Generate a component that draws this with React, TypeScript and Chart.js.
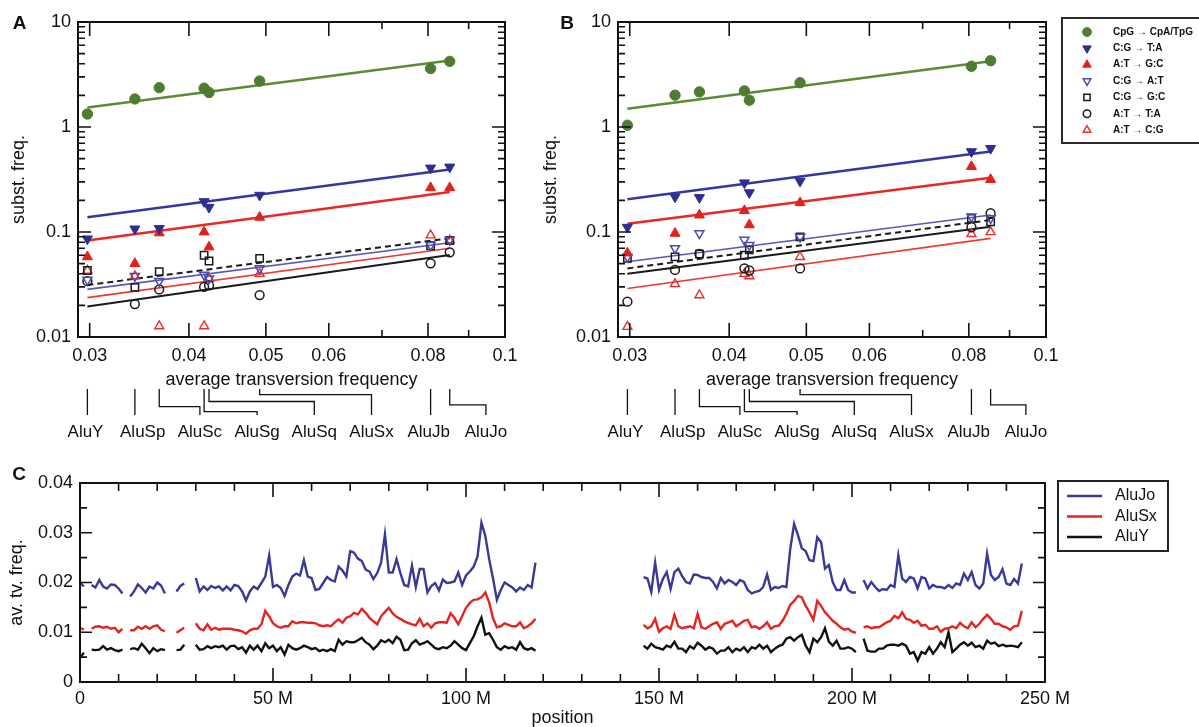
import React, { useEffect, useRef } from 'react';
import { Chart, registerables } from 'chart.js';
import { drawPoint } from 'chart.js/helpers';

Chart.register(...registerables);

const FONT = '"Liberation Sans", Arial, Helvetica, sans-serif';
Chart.defaults.font.family = FONT;
Chart.defaults.color = '#111';

// ---------------- Panels A & B data ----------------
const aluFamilies = ['AluY', 'AluSp', 'AluSc', 'AluSg', 'AluSq', 'AluSx', 'AluJb', 'AluJo'];
const aluTvFreq = [0.0298, 0.0342, 0.0367, 0.0418, 0.0424, 0.0491, 0.0806, 0.0852];
const fitTvRange = [0.0298, 0.0852];
const tvTickLabels = [0.03, 0.04, 0.05, 0.06, 0.08, 0.1];
const tvMinorMarks = [0.07, 0.09];
const substTickLabels = [0.01, 0.1, 1, 10];
const substTypes = ['CpG → CpA/TpG', 'C:G → T:A', 'A:T → G:C', 'C:G → A:T', 'C:G → G:C', 'A:T → T:A', 'A:T → C:G'];

// Panel A
const aCpG = [1.33, 1.85, 2.37, 2.34, 2.13, 2.74, 3.6, 4.22];
const aCGtoTA = [0.086, 0.107, 0.108, 0.195, 0.172, 0.224, 0.407, 0.416];
const aATtoGC = [0.058, 0.05, 0.098, 0.1, 0.072, 0.138, 0.264, 0.264];
const aCGtoAT = [0.035, 0.038, 0.034, 0.039, 0.036, 0.045, 0.075, 0.084];
const aCGtoGC = [0.043, 0.0297, 0.042, 0.06, 0.053, 0.056, 0.074, 0.083];
const aATtoTA = [0.034, 0.0206, 0.0284, 0.03, 0.031, 0.0251, 0.0503, 0.064];
const aATtoCG = [0.043, 0.038, 0.0127, 0.0127, 0.036, 0.04, 0.093, 0.083];
const aCpGFit = [1.53, 4.3];
const aCGtoTAFit = [0.138, 0.393];
const aATtoGCFit = [0.083, 0.24];
const aCGtoATFit = [0.0284, 0.079];
const aCGtoGCFit = [0.0313, 0.087];
const aATtoTAFit = [0.0195, 0.0604];
const aATtoCGFit = [0.0237, 0.07];

// Panel B
const bCpG = [1.04, 2.01, 2.16, 2.21, 1.8, 2.64, 3.79, 4.28];
const bCGtoTA = [0.111, 0.216, 0.213, 0.294, 0.237, 0.305, 0.583, 0.626];
const bATtoGC = [0.063, 0.097, 0.145, 0.16, 0.117, 0.19, 0.42, 0.316];
const bCGtoAT = [0.058, 0.07, 0.097, 0.084, 0.075, 0.09, 0.14, 0.135];
const bCGtoGC = [0.056, 0.058, 0.0617, 0.06, 0.0675, 0.09, 0.135, 0.125];
const bATtoTA = [0.0217, 0.0435, 0.062, 0.045, 0.043, 0.045, 0.111, 0.151];
const bATtoCG = [0.0125, 0.032, 0.025, 0.04, 0.038, 0.058, 0.096, 0.1];
const bCpGFit = [1.49, 4.22];
const bCGtoTAFit = [0.205, 0.583];
const bATtoGCFit = [0.12, 0.328];
const bCGtoATFit = [0.052, 0.145];
const bCGtoGCFit = [0.045, 0.13];
const bATtoTAFit = [0.04, 0.112];
const bATtoCGFit = [0.029, 0.087];

// ---------------- Panel C data (1 Mb windows) ----------------
const cSeriesNames = ['AluJo', 'AluSx', 'AluY'];
const genomePosM = Array.from({ length: 245 }, (_, i) => i);
const aluJoTv = [
  0.0200, 0.0192, null, 0.0195, 0.0190, 0.0205, 0.0192, 0.0188, 0.0196, 0.0195,
  0.0188, 0.0178, null, 0.0172, 0.0182, 0.0196, 0.0189, 0.0180, 0.0192, 0.0188,
  0.0200, 0.0194, 0.0178, null, null, 0.0182, 0.0193, 0.0198, null, null,
  0.0209, 0.0182, 0.0192, 0.0185, 0.0193, 0.0189, 0.0192, 0.0184, 0.0192, 0.0184,
  0.0195, 0.0193, 0.0182, 0.0164, 0.0182, 0.0192, 0.0187, 0.0199, 0.0212, 0.0254,
  0.0191, 0.0195, 0.0189, 0.0173, 0.0195, 0.0212, 0.0218, 0.0214, 0.0245, 0.0212,
  0.0209, 0.0185, 0.0187, 0.0199, 0.0211, 0.0205, 0.0202, 0.0232, 0.0224, 0.0212,
  0.0263, 0.0260, 0.0248, 0.0243, 0.0226, 0.0222, 0.0207, 0.0219, 0.0240, 0.0297,
  0.0220, 0.0220, 0.0247, 0.0219, 0.0195, 0.0192, 0.0234, 0.0191, 0.0227, 0.0227,
  0.0180, 0.0193, 0.0199, 0.0184, 0.0206, 0.0199, 0.0200, 0.0202, 0.0220, 0.0195,
  0.0214, 0.0222, 0.0232, 0.0253, 0.0320, 0.0294, 0.0247, 0.0208, 0.0165, 0.0185,
  0.0200, 0.0195, 0.0190, 0.0182, 0.0190, 0.0185, 0.0195, 0.0190, 0.0240, null,
  null, null, null, null, null, null, null, null, null, null,
  null, null, null, null, null, null, null, null, null, null,
  null, null, null, null, null, null, 0.0211, 0.0208, 0.0181, 0.0240,
  0.0185, 0.0207, 0.0221, 0.0187, 0.0221, 0.0228, 0.0213, 0.0201, 0.0198, 0.0216,
  0.0215, 0.0211, 0.0209, 0.0209, 0.0201, 0.0188, 0.0209, 0.0198, 0.0205, 0.0201,
  0.0195, 0.0205, 0.0201, 0.0185, 0.0178, 0.0181, 0.0183, 0.0191, 0.0216, 0.0185,
  0.0191, 0.0189, 0.0193, 0.0191, 0.0267, 0.0318, 0.0295, 0.0269, 0.0263, 0.0245,
  0.0243, 0.0291, 0.0281, 0.0228, 0.0235, 0.0201, 0.0185, 0.0185, 0.0205, 0.0185,
  0.0180, 0.0180, null, 0.0205, 0.0188, 0.0201, 0.0191, 0.0183, 0.0187, 0.0185,
  0.0195, 0.0191, 0.0255, 0.0208, 0.0201, 0.0211, 0.0208, 0.0188, 0.0211, 0.0208,
  0.0188, 0.0195, 0.0191, 0.0191, 0.0188, 0.0195, 0.0189, 0.0198, 0.0195, 0.0218,
  0.0205, 0.0221, 0.0195, 0.0188, 0.0198, 0.0258, 0.0215, 0.0205, 0.0211, 0.0227,
  0.0198, 0.0195, 0.0207, 0.0198, 0.0238,
];
const aluSxTv = [
  0.0109, 0.0105, null, 0.0107, 0.0111, 0.0112, 0.0109, 0.0111, 0.0107, 0.0109,
  0.0100, 0.0107, null, 0.0104, 0.0104, 0.0111, 0.0107, 0.0112, 0.0107, 0.0112,
  0.0114, 0.0105, 0.0102, null, null, 0.0099, 0.0104, 0.0109, null, null,
  0.0118, 0.0107, 0.0104, 0.0116, 0.0105, 0.0109, 0.0105, 0.0107, 0.0107, 0.0107,
  0.0105, 0.0104, 0.0102, 0.0097, 0.0104, 0.0107, 0.0107, 0.0116, 0.0143, 0.0132,
  0.0118, 0.0112, 0.0109, 0.0112, 0.0112, 0.0122, 0.0118, 0.0120, 0.0120, 0.0119,
  0.0119, 0.0118, 0.0114, 0.0112, 0.0114, 0.0112, 0.0120, 0.0126, 0.0119, 0.0129,
  0.0132, 0.0139, 0.0136, 0.0147, 0.0139, 0.0129, 0.0122, 0.0116, 0.0132, 0.0141,
  0.0149, 0.0138, 0.0131, 0.0127, 0.0122, 0.0119, 0.0116, 0.0114, 0.0127, 0.0112,
  0.0118, 0.0109, 0.0118, 0.0120, 0.0120, 0.0119, 0.0138, 0.0129, 0.0116, 0.0132,
  0.0149, 0.0159, 0.0165, 0.0166, 0.0170, 0.0180, 0.0160, 0.0128, 0.0110, 0.0112,
  0.0118, 0.0115, 0.0112, 0.0112, 0.0120, 0.0108, 0.0112, 0.0118, 0.0127, null,
  null, null, null, null, null, null, null, null, null, null,
  null, null, null, null, null, null, null, null, null, null,
  null, null, null, null, null, null, 0.0115, 0.0108, 0.0112, 0.0127,
  0.0101, 0.0108, 0.0112, 0.0107, 0.0135, 0.0112, 0.0108, 0.0110, 0.0112, 0.0108,
  0.0137, 0.0110, 0.0107, 0.0112, 0.0117, 0.0120, 0.0107, 0.0117, 0.0120, 0.0123,
  0.0112, 0.0117, 0.0123, 0.0125, 0.0110, 0.0112, 0.0107, 0.0112, 0.0120, 0.0107,
  0.0112, 0.0113, 0.0123, 0.0137, 0.0155, 0.0163, 0.0173, 0.0170, 0.0153, 0.0140,
  0.0125, 0.0163, 0.0153, 0.0140, 0.0132, 0.0123, 0.0117, 0.0110, 0.0105, 0.0107,
  0.0101, 0.0099, null, 0.0110, 0.0112, 0.0108, 0.0110, 0.0110, 0.0115, 0.0120,
  0.0123, 0.0133, 0.0128, 0.0140, 0.0127, 0.0125, 0.0119, 0.0123, 0.0113, 0.0115,
  0.0107, 0.0107, 0.0112, 0.0101, 0.0107, 0.0108, 0.0112, 0.0108, 0.0119, 0.0112,
  0.0108, 0.0120, 0.0110, 0.0117, 0.0127, 0.0135, 0.0127, 0.0117, 0.0117, 0.0112,
  0.0110, 0.0105, 0.0112, 0.0113, 0.0143,
];
const aluYTv = [
  0.0048, 0.0059, null, 0.0065, 0.0064, 0.0065, 0.0072, 0.0065, 0.0068, 0.0064,
  0.0062, 0.0065, null, 0.0066, 0.0068, 0.0065, 0.0077, 0.0068, 0.0058, 0.0068,
  0.0062, 0.0066, 0.0064, null, null, 0.0064, 0.0065, 0.0075, null, null,
  0.0075, 0.0065, 0.0066, 0.0072, 0.0068, 0.0072, 0.0070, 0.0073, 0.0065, 0.0072,
  0.0073, 0.0066, 0.0070, 0.0059, 0.0073, 0.0065, 0.0073, 0.0062, 0.0078, 0.0068,
  0.0073, 0.0062, 0.0070, 0.0055, 0.0075, 0.0068, 0.0065, 0.0068, 0.0073, 0.0070,
  0.0066, 0.0068, 0.0062, 0.0065, 0.0062, 0.0066, 0.0062, 0.0085, 0.0075, 0.0082,
  0.0080, 0.0080, 0.0084, 0.0089, 0.0080, 0.0075, 0.0066, 0.0073, 0.0084, 0.0080,
  0.0085, 0.0078, 0.0091, 0.0085, 0.0064, 0.0065, 0.0078, 0.0084, 0.0075, 0.0078,
  0.0082, 0.0075, 0.0068, 0.0066, 0.0070, 0.0068, 0.0073, 0.0082, 0.0075, 0.0068,
  0.0064, 0.0078, 0.0092, 0.0112, 0.0129, 0.0095, 0.0098, 0.0085, 0.0070, 0.0065,
  0.0072, 0.0068, 0.0070, 0.0065, 0.0080, 0.0068, 0.0065, 0.0068, 0.0063, null,
  null, null, null, null, null, null, null, null, null, null,
  null, null, null, null, null, null, null, null, null, null,
  null, null, null, null, null, null, 0.0073, 0.0067, 0.0077, 0.0070,
  0.0068, 0.0065, 0.0073, 0.0070, 0.0081, 0.0067, 0.0067, 0.0060, 0.0072, 0.0067,
  0.0079, 0.0073, 0.0065, 0.0070, 0.0067, 0.0057, 0.0063, 0.0063, 0.0070, 0.0060,
  0.0067, 0.0063, 0.0070, 0.0060, 0.0070, 0.0067, 0.0075, 0.0067, 0.0073, 0.0060,
  0.0067, 0.0072, 0.0075, 0.0087, 0.0090, 0.0083, 0.0090, 0.0095, 0.0073, 0.0060,
  0.0087, 0.0080, 0.0090, 0.0108, 0.0081, 0.0073, 0.0083, 0.0067, 0.0067, 0.0070,
  0.0067, 0.0060, null, 0.0087, 0.0063, 0.0061, 0.0061, 0.0067, 0.0067, 0.0073,
  0.0075, 0.0075, 0.0073, 0.0077, 0.0073, 0.0057, 0.0060, 0.0043, 0.0060, 0.0057,
  0.0070, 0.0057, 0.0067, 0.0080, 0.0070, 0.0100, 0.0060, 0.0067, 0.0075, 0.0080,
  0.0073, 0.0079, 0.0070, 0.0073, 0.0067, 0.0083, 0.0077, 0.0079, 0.0072, 0.0075,
  0.0072, 0.0073, 0.0072, 0.0070, 0.0080,
];
const posTickLabels = [0, 50, 100, 150, 200, 250];
const posMinorMarks = [10, 20, 30, 40, 60, 70, 80, 90, 110, 120, 130, 140, 160, 170, 180, 190, 210, 220, 230, 240];
const tvTicksC = [0, 0.01, 0.02, 0.03, 0.04];
const tvMinorC = [0.005, 0.015, 0.025, 0.035];

// ---------------- styles ----------------
const seriesStyles = [
  { pointStyle: 'circle', rotation: 0, radius: 5.2, fill: '#4e7d31', stroke: '#4e7d31', bw: 1, line: '#5a8c33', lw: 2.5, dash: [] },
  { pointStyle: 'triangle', rotation: 180, radius: 5.8, fill: '#2e2e92', stroke: '#2e2e92', bw: 1, line: '#3636a0', lw: 2.5, dash: [] },
  { pointStyle: 'triangle', rotation: 0, radius: 5.8, fill: '#e3201c', stroke: '#e3201c', bw: 1, line: '#e82a22', lw: 2.5, dash: [] },
  { pointStyle: 'triangle', rotation: 180, radius: 5.2, fill: 'rgba(0,0,0,0)', stroke: '#4a4ab0', bw: 1.5, line: '#5858b8', lw: 1.6, dash: [] },
  { pointStyle: 'rect', rotation: 0, radius: 5.2, fill: 'rgba(0,0,0,0)', stroke: '#1a1a1a', bw: 1.5, line: '#1a1a1a', lw: 2, dash: [6, 4] },
  { pointStyle: 'circle', rotation: 0, radius: 4.4, fill: 'rgba(0,0,0,0)', stroke: '#1a1a1a', bw: 1.5, line: '#1a1a1a', lw: 2, dash: [] },
  { pointStyle: 'triangle', rotation: 0, radius: 5.2, fill: 'rgba(0,0,0,0)', stroke: '#e8302a', bw: 1.4, line: '#ec3a30', lw: 1.6, dash: [] },
];
const cColors = ['#39399a', '#e3241f', '#111111'];
const bracketElbows = [null, null, 0.675, 0.87, 0.48, 0.22, null, 0.61];

const logMinor = [0.01, 0.1, 1].flatMap((d) => [2, 3, 4, 5, 6, 7, 8, 9].map((m) => m * d));

function framePlugin(spec: any) {
  return {
    id: 'frameTicks',
    afterDatasetsDraw(chart: any) {
      const { ctx, chartArea } = chart;
      const { left, right, top, bottom } = chartArea;
      const xs = chart.scales.x;
      const ys = chart.scales.y;
      ctx.save();
      ctx.strokeStyle = '#111';
      ctx.lineWidth = 1.6;
      ctx.beginPath();
      const vx = (v: number, len: number) => {
        const p = xs.getPixelForValue(v);
        ctx.moveTo(p, bottom); ctx.lineTo(p, bottom - len);
        ctx.moveTo(p, top); ctx.lineTo(p, top + len);
      };
      const hy = (v: number, len: number) => {
        const p = ys.getPixelForValue(v);
        ctx.moveTo(left, p); ctx.lineTo(left + len, p);
        ctx.moveTo(right, p); ctx.lineTo(right - len, p);
      };
      spec.xMajor.forEach((v: number) => vx(v, spec.xMajorLen));
      spec.xMinor.forEach((v: number) => vx(v, spec.xMinorLen));
      spec.yMajor.forEach((v: number) => hy(v, spec.yMajorLen));
      spec.yMinor.forEach((v: number) => hy(v, spec.yMinorLen));
      ctx.stroke();
      ctx.lineWidth = 2;
      ctx.strokeRect(left, top, right - left, bottom - top);
      ctx.restore();
    },
  };
}

function annotatePlugin(letter: string, letterX: number, letterY: number) {
  return {
    id: 'aluAnnot',
    afterDraw(chart: any) {
      const { ctx, chartArea } = chart;
      const xs = chart.scales.x;
      const b = chartArea.bottom;
      const yTop = b + 52;
      const yBot = b + 78;
      const yLab = b + 95;
      ctx.save();
      ctx.strokeStyle = '#111';
      ctx.lineWidth = 1.3;
      ctx.fillStyle = '#111';
      ctx.font = `17px ${FONT}`;
      ctx.textAlign = 'center';
      ctx.textBaseline = 'middle';
      aluFamilies.forEach((name, i) => {
        const px = xs.getPixelForValue(aluTvFreq[i]);
        const lx = chartArea.left + 7.5 + i * 57.2;
        const e = bracketElbows[i];
        ctx.beginPath();
        if (e == null) {
          ctx.moveTo(px, yTop); ctx.lineTo(px, yBot);
        } else {
          const ye = yTop + e * (yBot - yTop);
          ctx.moveTo(px, yTop); ctx.lineTo(px, ye); ctx.lineTo(lx, ye); ctx.lineTo(lx, yBot);
        }
        ctx.stroke();
        ctx.fillText(name, lx, yLab);
      });
      ctx.font = `bold 19px ${FONT}`;
      ctx.fillText(letter, letterX, letterY);
      ctx.restore();
    },
  };
}

const substLegendPlugin = {
  id: 'substLegend',
  afterDraw(chart: any) {
    const { ctx } = chart;
    ctx.save();
    ctx.strokeStyle = '#2a2a2a';
    ctx.lineWidth = 2;
    ctx.strokeRect(532, 18, 200, 125);
    seriesStyles.forEach((s, i) => {
      const y = 32 + i * 16.35;
      ctx.fillStyle = s.fill;
      ctx.strokeStyle = s.stroke;
      ctx.lineWidth = s.bw;
      drawPoint(ctx, { pointStyle: s.pointStyle, rotation: s.rotation, radius: s.radius * 0.85, borderWidth: s.bw }, 557, y);
      ctx.fillStyle = '#111';
      ctx.font = `bold 10px ${FONT}`;
      ctx.textAlign = 'left';
      ctx.textBaseline = 'middle';
      ctx.fillText(substTypes[i], 583, y);
    });
    ctx.restore();
  },
};

const cLegendPlugin = {
  id: 'cLegend',
  afterDraw(chart: any) {
    const { ctx } = chart;
    ctx.save();
    ctx.strokeStyle = '#222';
    ctx.lineWidth = 2;
    ctx.strokeRect(1058, 31, 110, 70);
    cSeriesNames.forEach((name, i) => {
      const y = 46 + i * 20.5;
      ctx.strokeStyle = cColors[i];
      ctx.lineWidth = 2.5;
      ctx.beginPath();
      ctx.moveTo(1067, y); ctx.lineTo(1102, y);
      ctx.stroke();
      ctx.fillStyle = '#111';
      ctx.font = `16px ${FONT}`;
      ctx.textAlign = 'left';
      ctx.textBaseline = 'middle';
      ctx.fillText(name, 1115, y);
    });
    ctx.font = `bold 19px ${FONT}`;
    ctx.textAlign = 'center';
    ctx.fillText('C', 19, 25);
    ctx.restore();
  },
};

function buildSubstDatasets(values: number[][], fits: number[][]) {
  const ds: any[] = [];
  seriesStyles.forEach((s, k) => {
    ds.push({
      label: substTypes[k],
      data: aluTvFreq.map((x, i) => ({ x, y: values[k][i] })),
      pointStyle: s.pointStyle,
      pointRotation: s.rotation,
      pointRadius: s.radius,
      pointBackgroundColor: s.fill,
      pointBorderColor: s.stroke,
      pointBorderWidth: s.bw,
      showLine: false,
      order: 1,
    });
    ds.push({
      label: substTypes[k] + ' fit',
      data: fitTvRange.map((x, i) => ({ x, y: fits[k][i] })),
      showLine: true,
      pointRadius: 0,
      borderColor: s.line,
      borderWidth: s.lw,
      borderDash: s.dash,
      order: 2,
    });
  });
  return ds;
}

function SubstPanel(props: any) {
  const { values, fits, letter, letterX, width, plotLeft, plotRight, yTitleX, legend } = props;
  const ref = useRef<HTMLCanvasElement | null>(null);
  useEffect(() => {
    const plugins: any[] = [
      framePlugin({
        xMajor: tvTickLabels, xMinor: tvMinorMarks, xMajorLen: 14, xMinorLen: 7,
        yMajor: substTickLabels, yMinor: logMinor, yMajorLen: 13, yMinorLen: 7,
      }),
      annotatePlugin(letter, letterX, 24),
    ];
    if (legend) plugins.push(substLegendPlugin);
    const chart = new Chart(ref.current as HTMLCanvasElement, {
      type: 'scatter',
      data: { datasets: buildSubstDatasets(values, fits) },
      options: {
        responsive: false,
        animation: false,
        events: [],
        layout: { padding: { left: 0, right: width - plotRight, top: 22, bottom: 0 } },
        plugins: { legend: { display: false }, tooltip: { enabled: false } },
        scales: {
          x: {
            type: 'logarithmic',
            min: 0.029,
            max: 0.1,
            afterFit: (s: any) => { s.height = 113; },
            afterBuildTicks: (s: any) => { s.ticks = tvTickLabels.map((v) => ({ value: v })); },
            grid: { display: false, drawTicks: false },
            border: { display: false },
            ticks: { autoSkip: false, maxRotation: 0, padding: 8, font: { size: 18 }, color: '#111', callback: (v: any) => String(v) },
            title: { display: true, text: 'average transversion frequency', font: { size: 18 }, color: '#111', padding: { top: 0, bottom: 59 } },
          },
          y: {
            type: 'logarithmic',
            min: 0.01,
            max: 10,
            afterFit: (s: any) => { s.width = plotLeft; },
            afterBuildTicks: (s: any) => { s.ticks = substTickLabels.map((v) => ({ value: v })); },
            grid: { display: false, drawTicks: false },
            border: { display: false },
            ticks: { autoSkip: false, padding: 7, font: { size: 18 }, color: '#111', callback: (v: any) => String(v) },
            title: { display: true, text: 'subst. freq.', font: { size: 18 }, color: '#111', padding: { top: yTitleX - 10.8, bottom: 0 } },
          },
        },
      },
      plugins,
    } as any);
    return () => chart.destroy();
  }, []);
  return <canvas ref={ref} width={width} height={450} style={{ display: 'block' }} />;
}

function PositionPanel() {
  const ref = useRef<HTMLCanvasElement | null>(null);
  useEffect(() => {
    const series = [aluJoTv, aluSxTv, aluYTv];
    const chart = new Chart(ref.current as HTMLCanvasElement, {
      type: 'line',
      data: {
        datasets: series.map((vals, k) => ({
          label: cSeriesNames[k],
          data: genomePosM.map((p, i) => ({ x: p, y: vals[i] })),
          borderColor: cColors[k],
          borderWidth: 2.4,
          pointRadius: 0,
          spanGaps: false,
          tension: 0,
          fill: false,
        })),
      },
      options: {
        responsive: false,
        animation: false,
        events: [],
        layout: { padding: { left: 0, right: 154, top: 33, bottom: 0 } },
        plugins: { legend: { display: false }, tooltip: { enabled: false } },
        scales: {
          x: {
            type: 'linear',
            min: 0,
            max: 250,
            afterFit: (s: any) => { s.height = 45; },
            afterBuildTicks: (s: any) => { s.ticks = posTickLabels.map((v) => ({ value: v })); },
            grid: { display: false, drawTicks: false },
            border: { display: false },
            ticks: { autoSkip: false, maxRotation: 0, padding: 6, font: { size: 18 }, color: '#111', callback: (v: any) => (v === 0 ? '0' : `${v} M`) },
            title: { display: true, text: 'position', font: { size: 18, lineHeight: 1 }, color: '#111', padding: { top: 0, bottom: 0 } },
          },
          y: {
            type: 'linear',
            min: 0,
            max: 0.04,
            afterFit: (s: any) => { s.width = 80; },
            afterBuildTicks: (s: any) => { s.ticks = tvTicksC.map((v) => ({ value: v })); },
            grid: { display: false, drawTicks: false },
            border: { display: false },
            ticks: { autoSkip: false, padding: 7, font: { size: 18 }, color: '#111', callback: (v: any) => (v === 0 ? '0' : Number(v).toFixed(2)) },
            title: { display: true, text: 'av. tv. freq.', font: { size: 18 }, color: '#111', padding: { top: 6.2, bottom: 0 } },
          },
        },
      },
      plugins: [
        framePlugin({
          xMajor: posTickLabels, xMinor: posMinorMarks, xMajorLen: 14, xMinorLen: 8,
          yMajor: tvTicksC, yMinor: tvMinorC, yMajorLen: 12, yMinorLen: 7,
        }),
        cLegendPlugin,
      ],
    } as any);
    return () => chart.destroy();
  }, []);
  return <canvas ref={ref} width={1199} height={277} style={{ display: 'block' }} />;
}

export default function App() {
  const aValues = [aCpG, aCGtoTA, aATtoGC, aCGtoAT, aCGtoGC, aATtoTA, aATtoCG];
  const aFits = [aCpGFit, aCGtoTAFit, aATtoGCFit, aCGtoATFit, aCGtoGCFit, aATtoTAFit, aATtoCGFit];
  const bValues = [bCpG, bCGtoTA, bATtoGC, bCGtoAT, bCGtoGC, bATtoTA, bATtoCG];
  const bFits = [bCpGFit, bCGtoTAFit, bATtoGCFit, bCGtoATFit, bCGtoGCFit, bATtoTAFit, bATtoCGFit];
  return (
    <div style={{ position: 'absolute', left: 0, top: 0, width: 1199, height: 727, background: '#fff', overflow: 'hidden' }}>
      <div style={{ position: 'absolute', left: 0, top: 0 }}>
        <SubstPanel values={aValues} fits={aFits} letter="A" letterX={19.5} width={530} plotLeft={78} plotRight={505} yTitleX={19.5} legend={false} />
      </div>
      <div style={{ position: 'absolute', left: 530, top: 0 }}>
        <SubstPanel values={bValues} fits={bFits} letter="B" letterX={37} width={669} plotLeft={88} plotRight={516} yTitleX={21} legend={true} />
      </div>
      <div style={{ position: 'absolute', left: 0, top: 450 }}>
        <PositionPanel />
      </div>
    </div>
  );
}
